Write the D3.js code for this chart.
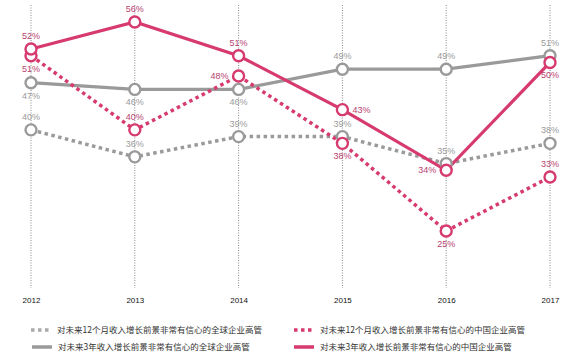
<!DOCTYPE html>
<html><head><meta charset="utf-8">
<script src="https://d3js.org/d3.v7.min.js"></script>
<style>body{margin:0;background:#fff}svg{display:block}</style>
</head><body>
<script>
const years = ["2012","2013","2014","2015","2016","2017"];
const global12 = [40,36,39,39,35,38];
const global3 = [47,46,46,49,49,51];
const china12 = [51,40,48,38,25,33];
const china3 = [52,56,51,43,34,50];
const legendNames = [
  "对未来12个月收入增长前景非常有信心的全球企业高管",
  "对未来12个月收入增长前景非常有信心的中国企业高管",
  "对未来3年收入增长前景非常有信心的全球企业高管",
  "对未来3年收入增长前景非常有信心的中国企业高管"
];
// label placement: 'a' above, 'b' below, 'l' left, 'r' right
const posGlobal12 = ["a","a","a","a","a","a"];
const posGlobal3 = ["b","b","b","a","a","a"];
const posChina12 = ["b","a","l","b","b","a"];
const posChina3 = ["a","a","a","r","l","b"];

const W=580,H=355;
const PINK="#d63a6e", GRAY="#9a9a9a";
const svg=d3.select("body").append("svg").attr("width",W).attr("height",H);
const x=d3.scalePoint().domain(years).range([31,550]);
const y=d3.scaleLinear().domain([25,56]).range([231,22]);

// vertical grid
svg.append("g").selectAll("line").data(years).join("line")
  .attr("x1",d=>x(d)).attr("x2",d=>x(d)).attr("y1",5).attr("y2",288)
  .attr("stroke","#888").attr("stroke-width",1).attr("stroke-dasharray","1,1.5");

// x axis labels
const ax=svg.append("g").attr("transform","translate(0,297)")
  .call(d3.axisBottom(x).tickSize(0).tickPadding(0));
ax.select(".domain").remove();
ax.selectAll("text").attr("font-family","Liberation Sans, Arial, sans-serif")
  .attr("font-size",8).attr("font-weight","normal").attr("fill","#111");

const series=[
  {vals:global12,color:GRAY,dash:true,pos:posGlobal12,lab:"#9a9a9a"},
  {vals:global3,color:GRAY,dash:false,pos:posGlobal3,lab:"#9a9a9a"},
  {vals:china12,color:PINK,dash:true,pos:posChina12,lab:"#b8416f"},
  {vals:china3,color:PINK,dash:false,pos:posChina3,lab:"#b8416f"}
];
const line=d3.line().x((d,i)=>x(years[i])).y(d=>y(d));
series.forEach(s=>{
  svg.append("path").datum(s.vals).attr("d",line).attr("fill","none")
    .attr("stroke",s.color).attr("stroke-width",s.dash?3.5:3.2)
    .attr("stroke-dasharray",s.dash?"3.5,3.5":null);
});
series.forEach(s=>{
  const g=svg.append("g");
  g.selectAll("circle").data(s.vals).join("circle")
    .attr("cx",(d,i)=>x(years[i])).attr("cy",d=>y(d)).attr("r",5.5)
    .attr("fill","#fff").attr("stroke",s.color).attr("stroke-width",2.4);
  g.selectAll("text").data(s.vals).join("text")
    .attr("x",(d,i)=>{const p=s.pos[i];return x(years[i])+(p==="l"?-10:p==="r"?10:0);})
    .attr("y",(d,i)=>{const p=s.pos[i];return y(d)+(p==="a"?-10:p==="b"?16:3);})
    .attr("text-anchor",(d,i)=>s.pos[i]==="l"?"end":s.pos[i]==="r"?"start":"middle")
    .attr("font-family","Liberation Sans, Arial, sans-serif").attr("font-size",9)
    .attr("fill",s.lab).text(d=>d+"%");
});

// legend
const leg=[
  {x:31,y:330,color:"#aaa",dash:true,name:legendNames[0]},
  {x:294,y:330,color:PINK,dash:true,name:legendNames[1]},
  {x:32,y:347,color:GRAY,dash:false,name:legendNames[2]},
  {x:294,y:347,color:PINK,dash:false,name:legendNames[3]}
];
const lg=svg.append("g");
leg.forEach(l=>{
  lg.append("line").attr("x1",l.x).attr("x2",l.x+20).attr("y1",l.y).attr("y2",l.y)
    .attr("stroke",l.color).attr("stroke-width",3.5).attr("stroke-dasharray",l.dash?"3.5,3.5":null);
  lg.append("text").attr("x",l.x+26).attr("y",l.y+3)
    .attr("font-family","Noto Sans CJK SC, sans-serif").attr("font-size",8.5)
    .attr("fill","#333").text(l.name);
});
</script>
</body></html>
